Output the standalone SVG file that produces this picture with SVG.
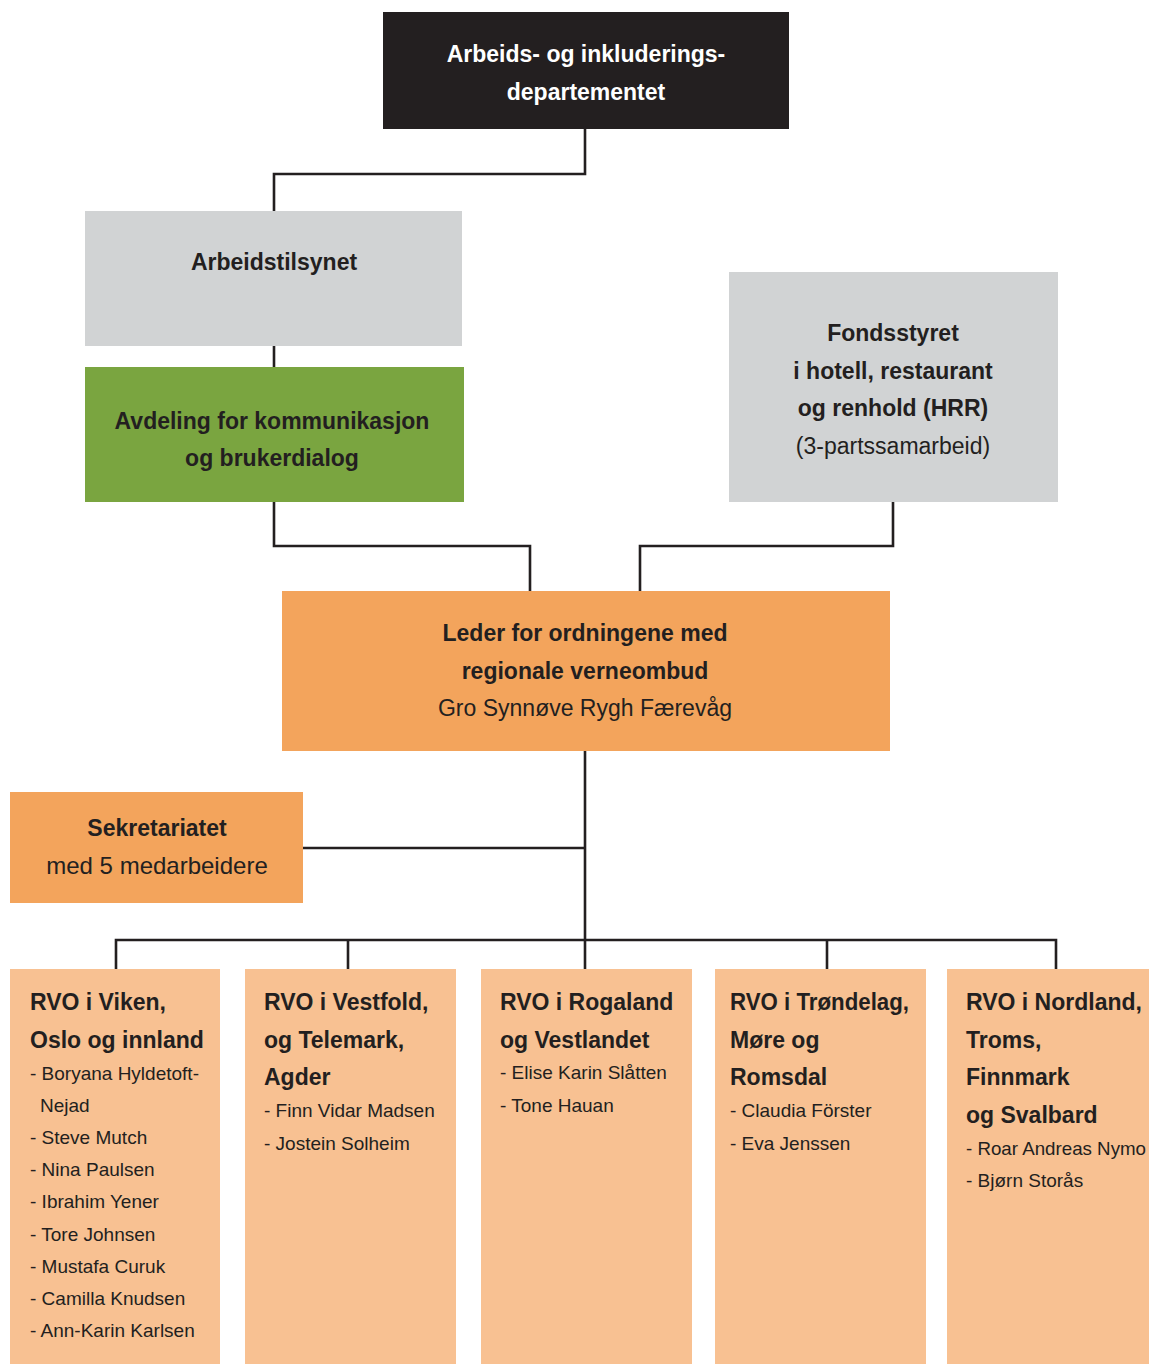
<svg xmlns="http://www.w3.org/2000/svg" width="1149" height="1364" viewBox="0 0 1149 1364">
<style>
.b{font-family:"Liberation Sans",Arial,sans-serif;font-weight:bold;font-size:23px;fill:#231f20}
.r{font-family:"Liberation Sans",Arial,sans-serif;font-size:23px;fill:#231f20}
.n{font-family:"Liberation Sans",Arial,sans-serif;font-size:19px;fill:#231f20}
.c{text-anchor:middle}
.w{fill:#ffffff}
.conn{fill:none;stroke:#231f20;stroke-width:2.6}
.rvo{fill:#f8c192}
</style>
<rect width="1149" height="1364" fill="#ffffff"/>
<g id="connectors">
<path class="conn" d="M585,129 V174 H274 V211"/>
<path class="conn" d="M274,346 V367"/>
<path class="conn" d="M274,502 V546 H530 V591"/>
<path class="conn" d="M893,502 V546 H640 V591"/>
<path class="conn" d="M585,751 V969"/>
<path class="conn" d="M303,848 H585"/>
<path class="conn" d="M116,969 V940 H1056 V969"/>
<path class="conn" d="M348,940 V969"/>
<path class="conn" d="M827,940 V969"/>
</g>
<g id="departement">
<rect x="383" y="12" width="406" height="117" fill="#231f20"/>
<text class="b c w" x="586" y="62">Arbeids- og inkluderings-</text>
<text class="b c w" x="586" y="100">departementet</text>
</g>
<g id="arbeidstilsynet">
<rect x="85" y="211" width="377" height="135" fill="#d1d3d4"/>
<text class="b c" x="274" y="270">Arbeidstilsynet</text>
</g>
<g id="avdeling">
<rect x="85" y="367" width="379" height="135" fill="#7aa540"/>
<text class="b c" x="272" y="429">Avdeling for kommunikasjon</text>
<text class="b c" x="272" y="466">og brukerdialog</text>
</g>
<g id="fondsstyret">
<rect x="729" y="272" width="329" height="230" fill="#d1d3d4"/>
<text class="b c" x="893" y="341">Fondsstyret</text>
<text class="b c" x="893" y="379">i hotell, restaurant</text>
<text class="b c" x="893" y="416">og renhold (HRR)</text>
<text class="r c" x="893" y="454">(3-partssamarbeid)</text>
</g>
<g id="leder">
<rect x="282" y="591" width="608" height="160" fill="#f3a45c"/>
<text class="b c" x="585" y="641">Leder for ordningene med</text>
<text class="b c" x="585" y="679">regionale verneombud</text>
<text class="r c" x="585" y="716">Gro Synnøve Rygh Færevåg</text>
</g>
<g id="sekretariatet">
<rect x="10" y="792" width="293" height="111" fill="#f3a45c"/>
<text class="b c" x="157" y="836">Sekretariatet</text>
<text class="r c" x="157" y="874" style="font-size:24px">med 5 medarbeidere</text>
</g>
<g id="rvo-viken">
<rect class="rvo" x="10" y="969" width="210" height="395"/>
<text class="b" x="30" y="1010">RVO i Viken,</text>
<text class="b" x="30" y="1048">Oslo og innland</text>
<text class="n" x="30" y="1080">- Boryana Hyldetoft-</text>
<text class="n" x="40" y="1112">Nejad</text>
<text class="n" x="30" y="1144">- Steve Mutch</text>
<text class="n" x="30" y="1176">- Nina Paulsen</text>
<text class="n" x="30" y="1208">- Ibrahim Yener</text>
<text class="n" x="30" y="1241">- Tore Johnsen</text>
<text class="n" x="30" y="1273">- Mustafa Curuk</text>
<text class="n" x="30" y="1305">- Camilla Knudsen</text>
<text class="n" x="30" y="1337">- Ann-Karin Karlsen</text>
</g>
<g id="rvo-vestfold">
<rect class="rvo" x="245" y="969" width="211" height="395"/>
<text class="b" x="264" y="1010">RVO i Vestfold,</text>
<text class="b" x="264" y="1048">og Telemark,</text>
<text class="b" x="264" y="1085">Agder</text>
<text class="n" x="264" y="1117">- Finn Vidar Madsen</text>
<text class="n" x="264" y="1150">- Jostein Solheim</text>
</g>
<g id="rvo-rogaland">
<rect class="rvo" x="481" y="969" width="211" height="395"/>
<text class="b" x="500" y="1010">RVO i Rogaland</text>
<text class="b" x="500" y="1048">og Vestlandet</text>
<text class="n" x="500" y="1079">- Elise Karin Slåtten</text>
<text class="n" x="500" y="1112">- Tone Hauan</text>
</g>
<g id="rvo-trondelag">
<rect class="rvo" x="715" y="969" width="211" height="395"/>
<text class="b" x="730" y="1010" textLength="179" lengthAdjust="spacingAndGlyphs">RVO i Trøndelag,</text>
<text class="b" x="730" y="1048">Møre og</text>
<text class="b" x="730" y="1085">Romsdal</text>
<text class="n" x="730" y="1117">- Claudia Förster</text>
<text class="n" x="730" y="1150">- Eva Jenssen</text>
</g>
<g id="rvo-nordland">
<rect class="rvo" x="947" y="969" width="202" height="395"/>
<text class="b" x="966" y="1010">RVO i Nordland,</text>
<text class="b" x="966" y="1048">Troms,</text>
<text class="b" x="966" y="1085">Finnmark</text>
<text class="b" x="966" y="1123">og Svalbard</text>
<text class="n" x="966" y="1155" textLength="180" lengthAdjust="spacingAndGlyphs">- Roar Andreas Nymo</text>
<text class="n" x="966" y="1187">- Bjørn Storås</text>
</g>
</svg>
